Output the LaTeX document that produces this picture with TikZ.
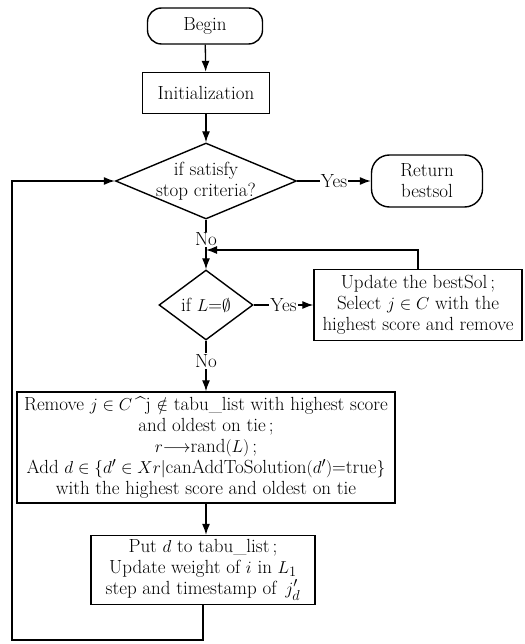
\documentclass[tikz,border=0pt]{standalone}
\usepackage{amsmath,amssymb}
\usepackage{tikz}
\usetikzlibrary{arrows.meta,calc,positioning,shapes.geometric}

\tikzset{
  box/.style={draw,line width=1.4pt,align=center,inner sep=2pt},
  term/.style={box,rounded corners=14pt},
  cond/.style={draw,line width=1.4pt,diamond,align=center,inner sep=0pt},
  lbl/.style={fill=white,inner sep=1pt},
}

\begin{document}
\begin{tikzpicture}[x=1pt,y=-1pt,>={Latex[length=11pt,width=8pt]},line width=1.3pt,
  font=\fontsize{19}{21}\selectfont]
  \useasboundingbox (0,0) rectangle (524,644);
  \node[term,minimum width=115pt,minimum height=36pt] (begin) at (205,26) {Begin};
  \node[box,minimum width=127pt,minimum height=41pt] (init) at (206,93) {Initialization};
  \node[cond,minimum width=181pt,minimum height=76pt,
    label={[align=center]center:if satisfy\\stop criteria?}] (stop) at (206,181) {};
  \node[term,rounded corners=18pt,minimum width=111pt,minimum height=52pt] (ret) at (427,181) {Return\\bestsol};
  \node[cond,minimum width=94pt,minimum height=70pt,
    label={center:if $L$=$\emptyset$}] (empty) at (206,305) {};
  \node[box,minimum width=208pt,minimum height=71pt] (upd) at (418,305) {Update the bestSol\,;\\Select $j\in C$ with the\\highest score and remove};
  \node[box,minimum width=378pt,minimum height=111pt] (act) at (206,447.5)
    {Remove $j\in C\,$\^{}j $\notin$ tabu\_list with highest score\\and oldest on tie\,;\\$r{\longrightarrow}$rand$(L)$\,;\\Add $d\in\{d'\in Xr|$canAddToSolution$(d')$=true$\}$\\with the highest score and oldest on tie};
  \node[box,minimum width=224pt,minimum height=69pt] (put) at (203,570) {Put $d$ to tabu\_list\,;\\Update weight of $i$ in $L_1$\\step and timestamp of \,$j'_d$};
  \coordinate (join) at (206,250);
  \coordinate (lb) at (12,640);
  \draw[->] (begin) -- (init);
  \draw[->] (init) -- (stop);
  \draw[->] (stop) -- node[lbl]{Yes} (ret);
  \draw[->] (stop) -- node[lbl,pos=0.4]{No} (empty);
  \draw[->] (empty) -- node[lbl]{Yes} (upd);
  \draw[->] (empty) -- node[lbl,pos=0.4]{No} (act);
  \draw[->] (upd.north) |- (join);
  \draw[->] (act.south) -- (act.south |- put.north);
  \draw[->] (put.south) |- (lb) |- (stop.west);
\end{tikzpicture}
\end{document}
